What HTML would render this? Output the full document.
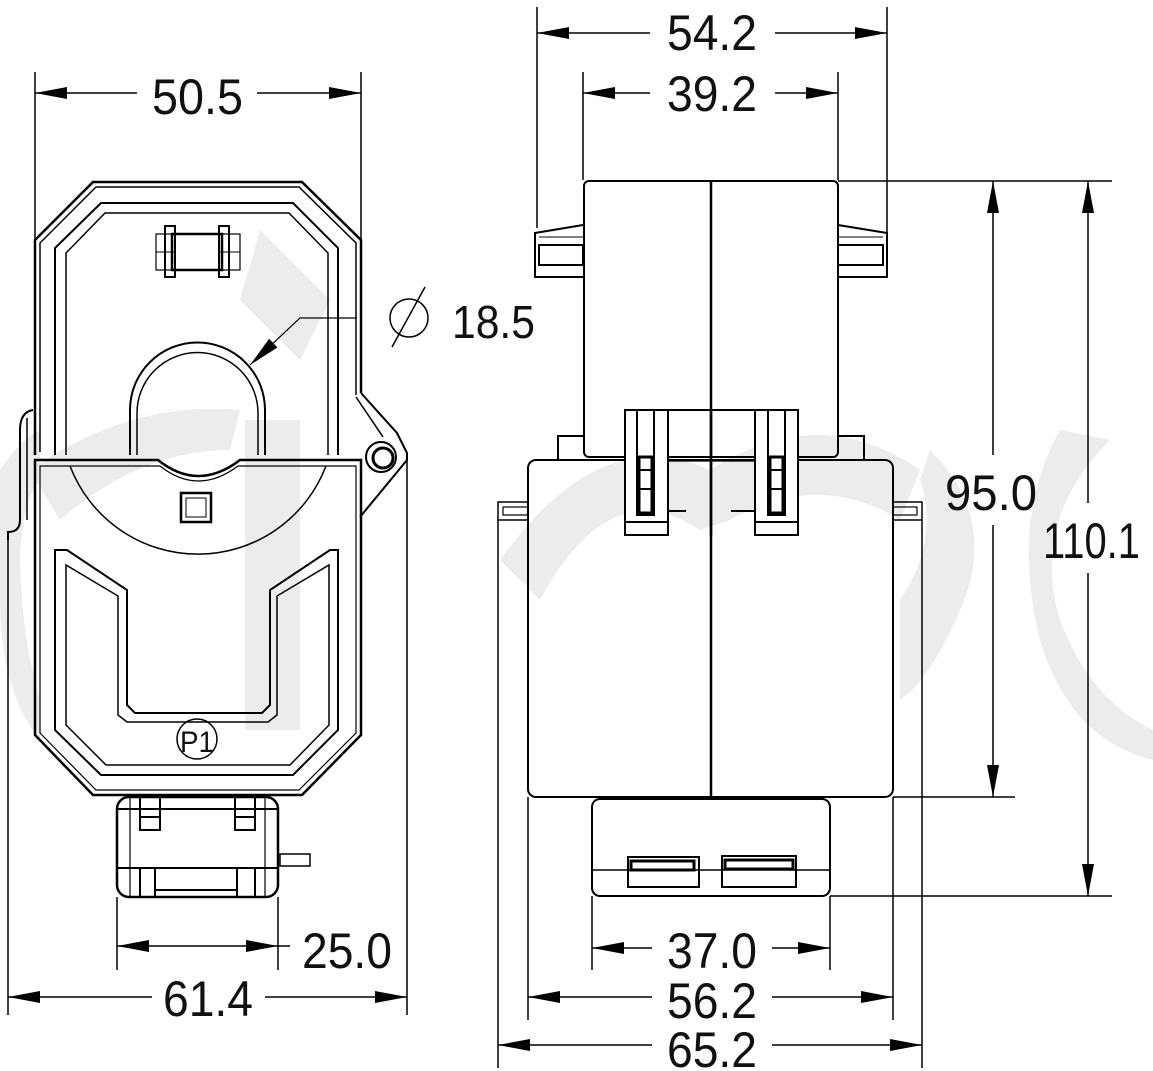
<!DOCTYPE html>
<html><head><meta charset="utf-8"><style>
html,body{margin:0;padding:0;background:#fff;}
svg{display:block;}
text{font-family:"Liberation Sans",sans-serif;font-size:50px;fill:#111;}
</style></head><body>
<svg width="1153" height="1071" viewBox="0 0 1153 1071" xmlns="http://www.w3.org/2000/svg">
<defs>
<marker id="a" viewBox="0 0 32 12" refX="32" refY="6" markerWidth="32" markerHeight="12" markerUnits="userSpaceOnUse" orient="auto-start-reverse"><path d="M0,0 L32,6 L0,12 z" fill="#000"/></marker>
</defs>
<!-- watermark -->
<g fill="#ececec" stroke="none">
<path d="M0,470 Q20,440 40,430 L40,480 Q22,500 20,560 Q22,640 40,700 L40,740 Q0,690 0,600 z"/>
<path d="M30,470 Q130,400 240,410 L230,450 Q140,450 60,520 z"/>
<rect x="245" y="420" width="55" height="310"/>
<path d="M0,430 L40,430 L40,450 L0,450z" opacity="0"/>
<path d="M260,230 L330,300 L300,360 L240,300z"/>
<path d="M500,560 Q600,420 710,470 Q820,400 920,470 L900,520 Q820,470 730,520 L700,530 Q610,470 540,600 z"/>
<path d="M1060,430 L1110,440 Q1030,520 1060,620 Q1090,700 1153,730 L1153,760 Q1070,740 1040,640 Q1010,520 1060,430z"/>
<path d="M930,450 Q1000,520 960,610 Q930,680 900,700 L900,600 Q940,540 920,480z"/>
</g>
<g fill="none" stroke="#000" stroke-width="2">
<!-- ===== LEFT VIEW ===== -->
<!-- dim 50.5 -->
<line x1="35" y1="72" x2="35" y2="240" stroke-width="1.5"/>
<line x1="361" y1="72" x2="361" y2="240" stroke-width="1.5"/>
<line x1="137" y1="93" x2="35" y2="93" marker-end="url(#a)" stroke-width="1.5"/>
<line x1="257" y1="93" x2="361" y2="93" marker-end="url(#a)" stroke-width="1.5"/>
<!-- upper clamp outer -->
<path d="M35,455 L35,240 L93,182 L302,182 L361,240 L361,393" stroke-width="2.5"/>
<path d="M40,452 L40,243 L96,187 L299,187 L356,243 L356,395" stroke-width="1.5"/>
<path d="M55,455 L55,248 L101,203 L293,203 L338,248 L338,455" stroke-width="2"/>
<path d="M66,455 L66,253 L105,213 L289,213 L328,253 L328,455" stroke-width="1.5"/>
<!-- connector icon -->
<rect x="172" y="234" width="50" height="36" stroke-width="2.5"/>
<rect x="156" y="234" width="84" height="36" stroke-width="1.2"/>
<rect x="165" y="226" width="10" height="51"/>
<rect x="219" y="226" width="10" height="51"/>
<line x1="156" y1="252" x2="175" y2="252" stroke-width="1"/>
<line x1="219" y1="252" x2="240" y2="252" stroke-width="1"/>
<!-- circle window -->
<path d="M130,455 L130,410 A67.5,67.5 0 0 1 265,410 L265,455" stroke-width="2"/>
<path d="M137,455 L137,413 A60.5,60.5 0 0 1 258,413 L258,455" stroke-width="1.5"/>
<!-- lower body -->
<path d="M35,460 L35,735 L93,795 L302,795 L361,735 L361,460 L240,460 Q198,492 158,460 Z" stroke-width="2.5"/>
<path d="M40,466 L40,733 L96,790 L299,790 L356,733 L356,466 L238,466 Q198,496 160,466 Z" stroke-width="1.2"/>
<path d="M70,466 A137,137 0 0 0 326,466" stroke-width="1.5"/>
<rect x="181" y="493" width="30" height="29" stroke-width="2.5"/>
<rect x="186" y="498" width="20" height="19" stroke-width="1"/>
<!-- U shapes -->
<path d="M55,550 L55,730 L101,775 L293,775 L338,730 L338,550 L330,550 L270,590 L270,705 L262,713 L135,713 L127,705 L127,590 L67,550 Z" stroke-width="2"/>
<path d="M66,565 L66,725 L106,765 L290,765 L329,725 L329,565 L276,597 L276,700 L266,703" stroke-width="1.5" opacity="0"/>
<path d="M66,565 L66,725 L106,765 L290,765 L329,725 L329,565 L277,596 L277,715 L268,722 L127,722 L118,715 L118,596 Z" stroke-width="1.5"/>
<circle cx="197" cy="739" r="20" stroke-width="1.5"/>
<text x="180" y="752" style="font-size:30px" textLength="34" lengthAdjust="spacingAndGlyphs" stroke="none">P1</text>
<!-- hinge -->
<path d="M356,397 L383,437" stroke-width="1.5"/>
<path d="M361,393 L397,433 L407,453 L407,460 L360,517" stroke-width="2"/>
<circle cx="381" cy="457" r="15" stroke-width="2"/>
<circle cx="383" cy="458" r="10" stroke-width="3"/>
<!-- left clip -->
<path d="M33,410 Q20,412 20,430 L20,520 Q20,532 8,532 L8,540" stroke-width="2"/>
<line x1="27" y1="418" x2="27" y2="520" stroke-width="1.5"/>
<!-- bottom connector -->
<rect x="117" y="797" width="161" height="100" rx="12" stroke-width="2.5"/>
<line x1="117" y1="868" x2="278" y2="868"/>
<line x1="155" y1="890" x2="237" y2="890"/>
<line x1="130" y1="797" x2="130" y2="897" stroke-width="1.2"/>
<line x1="265" y1="797" x2="265" y2="897" stroke-width="1.2"/>
<line x1="140" y1="868" x2="140" y2="897"/>
<line x1="155" y1="868" x2="155" y2="897"/>
<line x1="237" y1="868" x2="237" y2="897"/>
<line x1="255" y1="868" x2="255" y2="897"/>
<path d="M140,797 L140,830 L160,830 L160,797 M140,817 L160,817"/>
<path d="M235,797 L235,830 L255,830 L255,797 M235,817 L255,817"/>
<line x1="117" y1="809" x2="278" y2="809"/>
<rect x="280" y="854" width="30" height="12" stroke-width="1.5"/>
<!-- dim 25.0 -->
<line x1="117" y1="897" x2="117" y2="970" stroke-width="1.5"/>
<line x1="278" y1="897" x2="278" y2="970" stroke-width="1.5"/>
<line x1="197" y1="946" x2="117" y2="946" marker-end="url(#a)" stroke-width="1.5"/>
<line x1="197" y1="946" x2="278" y2="946" marker-end="url(#a)" stroke-width="1.5"/>
<line x1="278" y1="946" x2="290" y2="946" stroke-width="1.5"/>
<!-- dim 61.4 -->
<line x1="8" y1="540" x2="8" y2="1015" stroke-width="1.5"/>
<line x1="407" y1="460" x2="407" y2="1015" stroke-width="1.5"/>
<line x1="152" y1="997" x2="8" y2="997" marker-end="url(#a)" stroke-width="1.5"/>
<line x1="265" y1="997" x2="407" y2="997" marker-end="url(#a)" stroke-width="1.5"/>
<!-- dia leader -->
<polyline points="357,318 300,318 250,365" stroke-width="1.2" marker-end="url(#a)"/>
<circle cx="409" cy="318" r="19" stroke-width="1.5"/>
<line x1="392" y1="347" x2="425" y2="287" stroke-width="1.5"/>

<!-- ===== RIGHT VIEW ===== -->
<!-- dim 54.2 -->
<line x1="537" y1="7" x2="537" y2="228" stroke-width="1.5"/>
<line x1="887" y1="7" x2="887" y2="232" stroke-width="1.5"/>
<line x1="650" y1="33" x2="537" y2="33" marker-end="url(#a)" stroke-width="1.5"/>
<line x1="775" y1="33" x2="887" y2="33" marker-end="url(#a)" stroke-width="1.5"/>
<!-- dim 39.2 -->
<line x1="583" y1="72" x2="583" y2="180" stroke-width="1.5"/>
<line x1="838" y1="72" x2="838" y2="180" stroke-width="1.5"/>
<line x1="650" y1="93" x2="583" y2="93" marker-end="url(#a)" stroke-width="1.5"/>
<line x1="775" y1="93" x2="838" y2="93" marker-end="url(#a)" stroke-width="1.5"/>
<!-- top body -->
<rect x="584" y="181" width="254" height="276" rx="5" stroke-width="2"/>
<!-- side tabs top -->
<path d="M583,225 L535,233 L535,277 L583,277" stroke-width="2"/>
<rect x="539" y="245" width="44" height="20" stroke-width="2"/>
<line x1="539" y1="237" x2="583" y2="237" stroke-width="1"/>
<path d="M838,225 L887,233 L887,277 L838,277" stroke-width="2"/>
<rect x="838" y="245" width="45" height="20" stroke-width="2"/>
<line x1="838" y1="237" x2="883" y2="237" stroke-width="1"/>
<!-- bumps -->
<path d="M558,460 L558,436 L584,436"/>
<path d="M838,436 L864,436 L864,460"/>
<!-- lower body -->
<rect x="528" y="460" width="365" height="337" rx="8" stroke-width="2"/>
<rect x="498" y="502" width="30" height="18" stroke-width="1.5"/>
<rect x="503" y="507" width="25" height="8" stroke-width="1.2"/>
<rect x="893" y="502" width="29" height="18" stroke-width="1.5"/>
<rect x="893" y="507" width="24" height="8" stroke-width="1.2"/>
<!-- center line -->
<line x1="711" y1="181" x2="711" y2="797" stroke-width="2.5"/>
<!-- clips -->
<g fill="#fff">
<rect x="625" y="410" width="43" height="125"/>
<rect x="755" y="410" width="43" height="125"/>
</g>
<line x1="625" y1="410" x2="798" y2="410"/>
<line x1="668" y1="457" x2="755" y2="457"/>
<line x1="668" y1="461" x2="755" y2="461" stroke-width="1.2"/>
<line x1="711" y1="410" x2="711" y2="535" stroke-width="2.5"/>
<path d="M637,410 L637,515 L654,515 L654,410"/>
<rect x="639" y="457" width="13" height="56" stroke-width="3"/>
<line x1="639" y1="470" x2="652" y2="470"/><line x1="639" y1="489" x2="652" y2="489"/>
<line x1="625" y1="522" x2="668" y2="522"/>
<path d="M768,410 L768,515 L785,515 L785,410"/>
<rect x="770" y="457" width="13" height="56" stroke-width="3"/>
<line x1="770" y1="470" x2="783" y2="470"/><line x1="770" y1="489" x2="783" y2="489"/>
<line x1="755" y1="522" x2="798" y2="522"/>
<line x1="668" y1="511" x2="686" y2="511"/>
<line x1="731" y1="511" x2="755" y2="511"/>
<!-- bottom connector -->
<rect x="592" y="799" width="238" height="97" rx="8" stroke-width="2"/>
<line x1="592" y1="870" x2="830" y2="870" stroke-width="1.5"/>
<rect x="628" y="857" width="71" height="30" stroke-width="2"/>
<rect x="631" y="861" width="63" height="9" stroke-width="3"/>
<rect x="722" y="856" width="74" height="31" stroke-width="2"/>
<rect x="725" y="860" width="68" height="9" stroke-width="3"/>
<!-- dim 95.0 -->
<line x1="838" y1="181" x2="1015" y2="181" stroke-width="1.5"/>
<line x1="893" y1="797" x2="1015" y2="797" stroke-width="1.5"/>
<line x1="993" y1="455" x2="993" y2="181" marker-end="url(#a)" stroke-width="1.5"/>
<line x1="993" y1="525" x2="993" y2="797" marker-end="url(#a)" stroke-width="1.5"/>
<!-- dim 110.1 -->
<line x1="1015" y1="181" x2="1112" y2="181" stroke-width="1.5"/>
<line x1="830" y1="896" x2="1112" y2="896" stroke-width="1.5"/>
<line x1="1088" y1="503" x2="1088" y2="181" marker-end="url(#a)" stroke-width="1.5"/>
<line x1="1088" y1="573" x2="1088" y2="896" marker-end="url(#a)" stroke-width="1.5"/>
<!-- dim 37.0 -->
<line x1="592" y1="896" x2="592" y2="970" stroke-width="1.5"/>
<line x1="830" y1="896" x2="830" y2="970" stroke-width="1.5"/>
<line x1="652" y1="948" x2="592" y2="948" marker-end="url(#a)" stroke-width="1.5"/>
<line x1="772" y1="948" x2="830" y2="948" marker-end="url(#a)" stroke-width="1.5"/>
<!-- dim 56.2 -->
<line x1="528" y1="797" x2="528" y2="1020" stroke-width="1.5"/>
<line x1="893" y1="797" x2="893" y2="1020" stroke-width="1.5"/>
<line x1="652" y1="997" x2="528" y2="997" marker-end="url(#a)" stroke-width="1.5"/>
<line x1="772" y1="997" x2="893" y2="997" marker-end="url(#a)" stroke-width="1.5"/>
<!-- dim 65.2 -->
<line x1="498" y1="520" x2="498" y2="1068" stroke-width="1.5"/>
<line x1="922" y1="520" x2="922" y2="1068" stroke-width="1.5"/>
<line x1="652" y1="1045" x2="498" y2="1045" marker-end="url(#a)" stroke-width="1.5"/>
<line x1="772" y1="1045" x2="922" y2="1045" marker-end="url(#a)" stroke-width="1.5"/>
</g>
<!-- labels -->
<text x="152" y="114" textLength="91" lengthAdjust="spacingAndGlyphs">50.5</text>
<text x="452" y="338" textLength="83" lengthAdjust="spacingAndGlyphs" style="font-size:46px">18.5</text>
<text x="302" y="968" textLength="90" lengthAdjust="spacingAndGlyphs">25.0</text>
<text x="163" y="1016" textLength="90" lengthAdjust="spacingAndGlyphs">61.4</text>
<text x="667" y="50" textLength="90" lengthAdjust="spacingAndGlyphs">54.2</text>
<text x="667" y="111" textLength="90" lengthAdjust="spacingAndGlyphs">39.2</text>
<text x="945" y="510" textLength="92" lengthAdjust="spacingAndGlyphs">95.0</text>
<text x="1043" y="558" textLength="97" lengthAdjust="spacingAndGlyphs">110.1</text>
<text x="667" y="968" textLength="90" lengthAdjust="spacingAndGlyphs">37.0</text>
<text x="667" y="1018" textLength="90" lengthAdjust="spacingAndGlyphs">56.2</text>
<text x="667" y="1067" textLength="90" lengthAdjust="spacingAndGlyphs">65.2</text>
</svg>
</body></html>
